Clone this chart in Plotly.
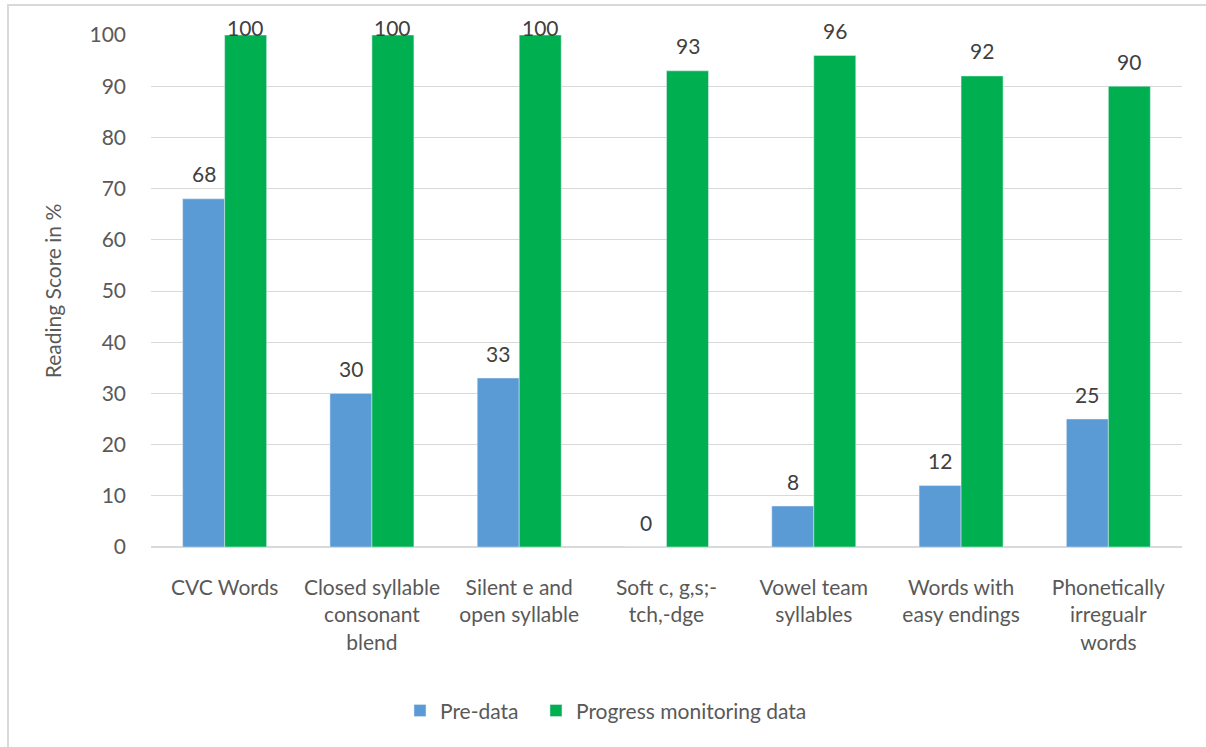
import plotly.graph_objects as go

categories = ["CVC Words", "Closed syllable<br>consonant<br>blend", "Silent e and<br>open syllable",
              "Soft c, g,s;-<br>tch,-dge", "Vowel team<br>syllables", "Words with<br>easy endings",
              "Phonetically<br>irregualr<br>words"]
pre_data = [68, 30, 33, 0, 8, 12, 25]
progress_data = [100, 100, 100, 93, 96, 92, 90]
y_ticks = [0, 10, 20, 30, 40, 50, 60, 70, 80, 90, 100]

FONT = "Lato, Open Sans, sans-serif"
TXT = "#595959"
LBL = "#404040"
FS = 21

fig = go.Figure()
fig.add_trace(go.Bar(x=categories, y=pre_data, name="Pre-data", marker_color="#5B9BD5", legend="legend"))
fig.add_trace(go.Bar(x=categories, y=progress_data, name="Progress monitoring data", marker_color="#00B050",
                     legend="legend2"))

annotations = []
for series, dx in ((pre_data, -21), (progress_data, 21)):
    for cat, v in zip(categories, series):
        annotations.append(dict(x=cat, y=v, xref="x", yref="y", text=str(v), showarrow=False,
                                xshift=dx, yshift=(25 if v < 100 else 8), yanchor="middle",
                                font=dict(size=FS, color=LBL, family=FONT)))

fig.update_layout(
    width=1206, height=747,
    margin=dict(l=151, r=24, t=35, b=200),
    barmode="group", bargap=0.43, bargroupgap=0,
    plot_bgcolor="white", paper_bgcolor="white",
    font=dict(family=FONT, size=FS, color=TXT),
    showlegend=True,
    legend=dict(orientation="h", x=0.2415, xanchor="left", y=-0.32, yanchor="middle",
                font=dict(size=FS, color=TXT)),
    legend2=dict(orientation="h", x=0.3734, xanchor="left", y=-0.32, yanchor="middle",
                 font=dict(size=FS, color=TXT)),
    xaxis=dict(showline=False, ticks="", tickfont=dict(size=FS, color=TXT), tickangle=0,
               ticklabelstandoff=26),
    yaxis=dict(range=[0, 100], tickvals=y_ticks, showgrid=True, gridcolor="#D9D9D9", gridwidth=1,
               zeroline=True, zerolinecolor="#D9D9D9", zerolinewidth=2, showline=False,
               tickfont=dict(size=FS, color=TXT), ticks="", ticklabelstandoff=24,
               title=dict(text="Reading Score in %", font=dict(size=FS, color=TXT), standoff=22)),
    annotations=annotations,
    shapes=[dict(type="rect", xref="paper", yref="paper", x0=-0.1387, x1=1.03, y0=-0.5, y1=1.0586,
                 line=dict(color="#D9D9D9", width=2), fillcolor="rgba(0,0,0,0)", layer="below")],
)
fig.write_html("out.html")
